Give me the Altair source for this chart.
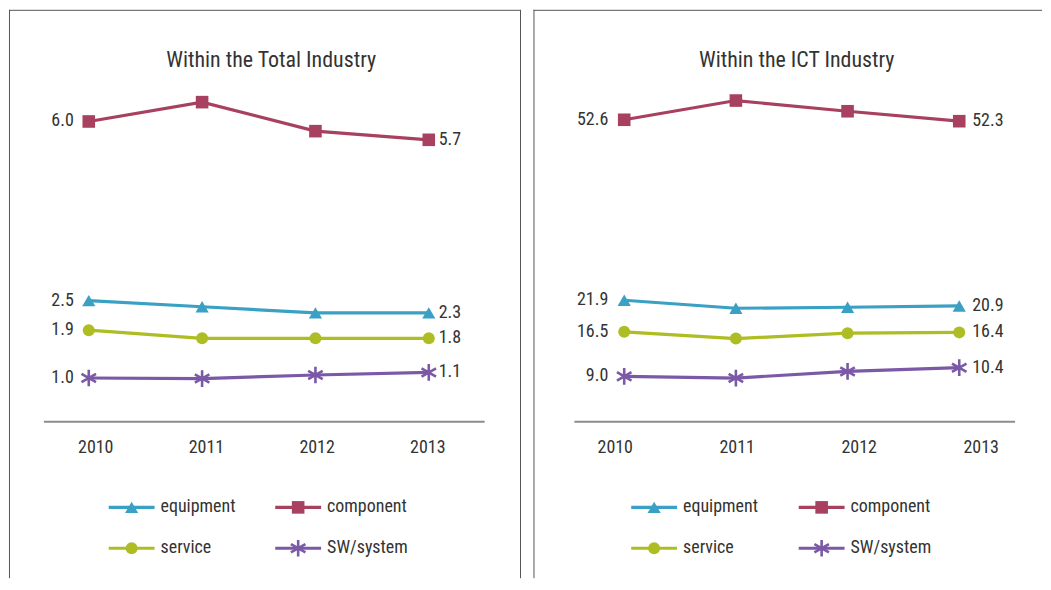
import altair as alt
import pandas as pd

years = ["2010", "2011", "2012", "2013"]
series = ["equipment", "component", "service", "SW/system"]

total_equipment = [2.50, 2.38, 2.26, 2.26]
total_component = [6.02, 6.40, 5.83, 5.66]
total_service = [1.92, 1.76, 1.76, 1.76]
total_sw = [0.98, 0.97, 1.04, 1.09]

ict_equipment = [21.90, 20.54, 20.71, 20.94]
ict_component = [52.58, 55.85, 54.03, 52.34]
ict_service = [16.54, 15.39, 16.31, 16.44]
ict_sw = [8.96, 8.68, 9.80, 10.44]

colors = ["#3AA0C4", "#A8405F", "#AEBD23", "#7B59A6"]
filled_series = ["equipment", "component", "service"]
filled_shapes = ["triangle-up", "square", "circle"]
filled_sizes = [175, 144, 160]
ASTER = "M0,-1L0,1M-0.87,-0.5L0.87,0.5M-0.87,0.5L0.87,-0.5"

FONT = "Liberation Sans Narrow, Arial Narrow, Roboto Condensed, Roboto, sans-serif"
TEXT = "#333333"

color_scale = alt.Scale(domain=series, range=colors)


def make_df(vals):
    rows = []
    for s, v in zip(series, vals):
        for y, val in zip(years, v):
            rows.append({"year": y, "series": s, "value": val})
    return pd.DataFrame(rows)


def panel(title, vals, ydom, yrng, xrng, labrng, W, H, right_border, title_x,
          dx_left, dx_right, axis_x, legend_cols):
    df = make_df(vals)
    one = pd.DataFrame({"a": [0]})
    xenc = alt.X("year:O", scale=alt.Scale(type="point", domain=years, range=xrng, padding=0), axis=None)
    yenc = alt.Y("value:Q", scale=alt.Scale(domain=ydom, range=yrng, nice=False, zero=False), axis=None)
    col = alt.Color("series:N", scale=color_scale, legend=None)

    base = alt.Chart(df).encode(x=xenc, y=yenc, color=col)
    lines = base.mark_line(strokeWidth=3.2)
    pts = base.transform_filter(alt.FieldOneOfPredicate(field="series", oneOf=filled_series)).mark_point(
        filled=True, opacity=1).encode(
        shape=alt.Shape("series:N", scale=alt.Scale(domain=filled_series, range=filled_shapes), legend=None),
        size=alt.Size("series:N", scale=alt.Scale(domain=filled_series, range=filled_sizes), legend=None))
    ast = base.transform_filter(alt.datum.series == "SW/system").mark_point(
        shape=ASTER, filled=False, size=280, strokeWidth=2.6, opacity=1)
    lab_l = base.transform_filter(alt.datum.year == years[0]).mark_text(
        align="right", baseline="middle", dx=dx_left, font=FONT, fontSize=18, color=TEXT).encode(
        text=alt.Text("value:Q", format=".1f"), color=alt.value(TEXT))
    lab_r = base.transform_filter(alt.datum.year == years[-1]).mark_text(
        align="left", baseline="middle", dx=dx_right, font=FONT, fontSize=18, color=TEXT).encode(
        text=alt.Text("value:Q", format=".1f"), color=alt.value(TEXT))
    data_layer = alt.layer(lines, pts, ast, lab_l, lab_r)

    borders = [
        alt.Chart(one).mark_rule(color="#555555", strokeWidth=1).encode(
            x=alt.value(0), x2=alt.value(right_border if right_border else W), y=alt.value(0.5)),
        alt.Chart(one).mark_rule(color="#555555", strokeWidth=1).encode(
            x=alt.value(0.5), y=alt.value(0), y2=alt.value(H)),
    ]
    if right_border:
        borders.append(alt.Chart(one).mark_rule(color="#555555", strokeWidth=1).encode(
            x=alt.value(right_border), y=alt.value(0), y2=alt.value(H)))

    axis_line = alt.Chart(one).mark_rule(color="#8C8C8C", strokeWidth=2).encode(
        x=alt.value(axis_x[0]), x2=alt.value(axis_x[1]), y=alt.value(413))

    ttl = alt.Chart(one).mark_text(text=title, font=FONT, fontSize=22, color=TEXT,
                                   align="center", baseline="middle").encode(
        x=alt.value(title_x), y=alt.value(50))

    yl = alt.Chart(pd.DataFrame({"label": years})).mark_text(
        font=FONT, fontSize=18, color=TEXT, align="center", baseline="middle").encode(
        x=alt.X("label:O", scale=alt.Scale(type="point", domain=years, range=labrng, padding=0), axis=None),
        y=alt.value(439), text="label:N")

    leg_df = pd.DataFrame({"series": series, "col": [0, 1, 0, 1], "row": [0, 0, 1, 1]})
    lx = alt.X("col:Q", scale=alt.Scale(domain=[0, 1], range=legend_cols), axis=None)
    ly = alt.Y("row:Q", scale=alt.Scale(domain=[0, 1], range=[499, 540]), axis=None)
    lbase = alt.Chart(leg_df).encode(x=lx, y=ly, color=col)
    l_line = lbase.mark_rule(strokeWidth=3.2, x2Offset=46).encode(x2=alt.X2("col:Q"))
    l_pts = lbase.transform_filter(alt.FieldOneOfPredicate(field="series", oneOf=filled_series)).mark_point(
        filled=True, opacity=1, xOffset=23).encode(
        shape=alt.Shape("series:N", scale=alt.Scale(domain=filled_series, range=filled_shapes), legend=None),
        size=alt.Size("series:N", scale=alt.Scale(domain=filled_series, range=filled_sizes), legend=None))
    l_ast = lbase.transform_filter(alt.datum.series == "SW/system").mark_point(
        shape=ASTER, filled=False, size=280, strokeWidth=2.6, opacity=1, xOffset=23)
    l_txt = lbase.mark_text(align="left", baseline="middle", dx=52, font=FONT, fontSize=18,
                            color=TEXT).encode(text="series:N", color=alt.value(TEXT))
    legend_layer = alt.layer(l_line, l_pts, l_ast, l_txt)

    return alt.layer(*borders, axis_line, ttl, yl, data_layer, legend_layer).resolve_scale(
        x="independent", y="independent").properties(width=W, height=H)


left = panel("Within the Total Industry",
             [total_equipment, total_component, total_service, total_sw],
             [0, 8], [419.3, 10.9], [80, 421], [87, 420], 525, 570, 513, 263,
             -15, 10, [35, 477], [100, 267])
right = panel("Within the ICT Industry",
              [ict_equipment, ict_component, ict_service, ict_sw],
              [0, 60], [420.5, 66.5], [91, 427], [82, 449], 510, 570, None, 264,
              -16, 13, [41, 483], [98, 266])

chart = alt.hconcat(left, right, spacing=0).properties(padding=0, background="white").configure_view(
    strokeWidth=0)

chart.save("out.html", embed_options={"renderer": "svg", "actions": False})
